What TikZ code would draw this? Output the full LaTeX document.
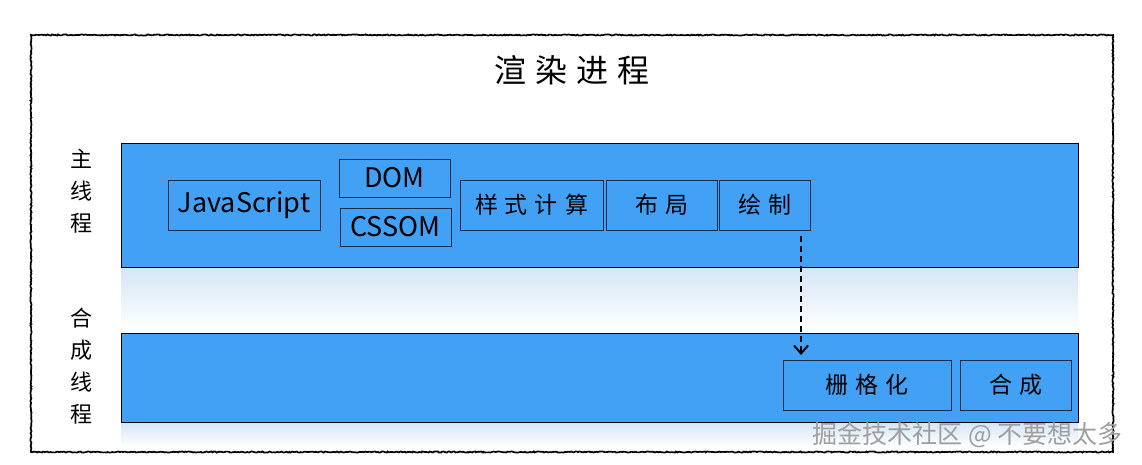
\documentclass[tikz,border=0pt]{standalone}
\usepackage{fontspec}
\setmainfont{Noto Sans CJK SC}
\newfontfamily\cjk{Noto Sans CJK SC}
\usetikzlibrary{decorations.pathmorphing,arrows.meta}
\definecolor{bandblue}{HTML}{42A0F5}
\definecolor{boxedge}{HTML}{1B2C45}
\definecolor{shadowtop}{HTML}{D6E6F6}
\newcommand{\gp}{\hspace{7pt}}
\tikzset{
  band/.style={fill=bandblue,draw=black,line width=0.8pt},
  stepbox/.style={draw=boxedge,line width=0.8pt,fill=bandblue,inner sep=0pt,font=\cjk\fontsize{23}{23}\selectfont},
  latinbox/.style={stepbox,font=\cjk\fontsize{27}{27}\selectfont},
  lbl/.style={font=\cjk\fontsize{22}{32}\selectfont,align=center,inner sep=0pt},
  sketch/.style={draw=black,line width=1.7pt,decorate,decoration={random steps,segment length=1.5pt,amplitude=0.6pt}},
}
\begin{document}
\begin{tikzpicture}[x=1pt,y=-1pt]
\useasboundingbox (0,0) rectangle (1142,465);
\fill[white] (0,0) rectangle (1142,465);
% outer frame
\draw[sketch] (31,35) rectangle (1113,452);
% title
\node[font=\cjk\fontsize{32}{32}\selectfont] (title) at (572,70) {渲\hspace{9pt}染\hspace{9pt}进\hspace{9pt}程};
% shadows
\shade[top color=shadowtop,bottom color=white] (121,268) rectangle (1078,330);
\shade[top color=shadowtop,bottom color=white] (121,423) rectangle (1078,446);
% bands
\draw[band] (121,143) rectangle (1078,267);
\draw[band] (121,333) rectangle (1078,422);
% labels
\node[lbl] (mainlbl) at (81,191) {主\\线\\程};
\node[lbl] (complbl) at (81,366) {合\\成\\线\\程};
% main thread steps
\node[latinbox,minimum width=152pt,minimum height=50pt] (js) at (244,205) {JavaScript};
\node[latinbox,minimum width=111pt,minimum height=38pt] (dom) at (394.5,178) {DOM};
\node[latinbox,minimum width=111pt,minimum height=38pt] (cssom) at (395.5,227) {CSSOM};
\node[stepbox,minimum width=143pt,minimum height=50pt] (style) at (531.5,205) {样\gp 式\gp 计\gp 算};
\node[stepbox,minimum width=111pt,minimum height=50pt] (layout) at (661.5,205) {布\gp 局};
\node[stepbox,minimum width=91pt,minimum height=50pt] (paint) at (764.5,205) {绘\gp 制};
% compositor steps
\node[stepbox,minimum width=168pt,minimum height=50pt] (raster) at (867,385) {栅\gp 格\gp 化};
\node[stepbox,minimum width=111pt,minimum height=50pt] (comp) at (1015.5,385) {合\gp 成};
% arrow
\coordinate (arrend) at (801,355);
\draw[line width=2.6pt,dash pattern=on 6pt off 4pt,-{Straight Barb[length=8pt,width=14pt,line width=2pt]}] ([xshift=36.5pt,yshift=-6pt]paint.south) -- (arrend);
% watermark
\node[font=\cjk\fontsize{25}{25}\selectfont,text=gray!75,anchor=east] (wm) at (1126,435) {掘金技术社区 @ 不要想太多};
\end{tikzpicture}
\end{document}
